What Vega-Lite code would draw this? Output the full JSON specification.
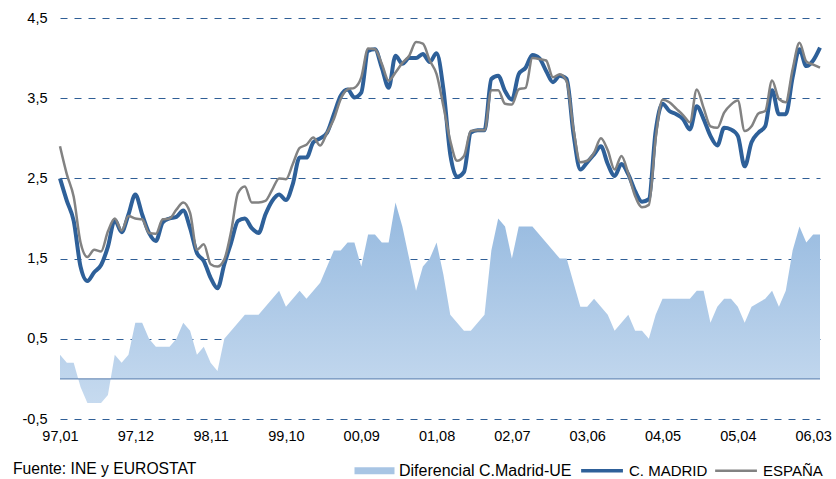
{
  "$schema": "https://vega.github.io/schema/vega-lite/v6.json",
  "width": 760,
  "height": 401,
  "autosize": "none",
  "padding": {"left": 60, "top": 18, "right": 16, "bottom": 60},
  "background": "white",
  "title": {"text": "Fuente: INE y EUROSTAT", "orient": "bottom", "anchor": "start", "frame": "group", "dx": -47, "offset": -17, "font": "Liberation Sans", "fontSize": 15.7, "fontWeight": "normal", "color": "#000000"},
  "config": {"view": {"stroke": null},
    "legend": {"orient": "none", "legendX": 287, "legendY": 445, "direction": "horizontal", "title": null, "labelFont": "Liberation Sans", "labelFontSize": 15, "labelColor": "#000000", "labelLimit": 0, "symbolSize": 1764, "symbolType": "M-1,0H1", "columnPadding": 2, "labelOffset": 37, "padding": 0}},
  "data": {"values": [
    {"mes": "97,01", "madrid": 2.50, "espana": 2.90, "dif": 0.3},
    {"mes": "97,02", "madrid": 2.22, "espana": 2.55, "dif": 0.2},
    {"mes": "97,03", "madrid": 1.97, "espana": 2.27, "dif": 0.2},
    {"mes": "97,04", "madrid": 1.40, "espana": 1.70, "dif": -0.1},
    {"mes": "97,05", "madrid": 1.22, "espana": 1.52, "dif": -0.3},
    {"mes": "97,06", "madrid": 1.33, "espana": 1.61, "dif": -0.3},
    {"mes": "97,07", "madrid": 1.42, "espana": 1.59, "dif": -0.3},
    {"mes": "97,08", "madrid": 1.65, "espana": 1.84, "dif": -0.2},
    {"mes": "97,09", "madrid": 1.98, "espana": 2.00, "dif": 0.3},
    {"mes": "97,10", "madrid": 1.83, "espana": 1.85, "dif": 0.2},
    {"mes": "97,11", "madrid": 2.05, "espana": 2.03, "dif": 0.3},
    {"mes": "97,12", "madrid": 2.30, "espana": 2.00, "dif": 0.7},
    {"mes": "98,01", "madrid": 2.05, "espana": 1.99, "dif": 0.7},
    {"mes": "98,02", "madrid": 1.82, "espana": 1.82, "dif": 0.5},
    {"mes": "98,03", "madrid": 1.72, "espana": 1.81, "dif": 0.4},
    {"mes": "98,04", "madrid": 1.95, "espana": 1.99, "dif": 0.4},
    {"mes": "98,05", "madrid": 2.00, "espana": 2.00, "dif": 0.4},
    {"mes": "98,06", "madrid": 2.02, "espana": 2.11, "dif": 0.5},
    {"mes": "98,07", "madrid": 2.10, "espana": 2.20, "dif": 0.7},
    {"mes": "98,08", "madrid": 1.88, "espana": 2.07, "dif": 0.6},
    {"mes": "98,09", "madrid": 1.57, "espana": 1.61, "dif": 0.3},
    {"mes": "98,10", "madrid": 1.47, "espana": 1.68, "dif": 0.4},
    {"mes": "98,11", "madrid": 1.26, "espana": 1.43, "dif": 0.2},
    {"mes": "98,12", "madrid": 1.13, "espana": 1.40, "dif": 0.1},
    {"mes": "99,01", "madrid": 1.43, "espana": 1.49, "dif": 0.5},
    {"mes": "99,02", "madrid": 1.70, "espana": 1.84, "dif": 0.6},
    {"mes": "99,03", "madrid": 1.97, "espana": 2.32, "dif": 0.7},
    {"mes": "99,04", "madrid": 2.00, "espana": 2.40, "dif": 0.8},
    {"mes": "99,05", "madrid": 1.88, "espana": 2.20, "dif": 0.8},
    {"mes": "99,06", "madrid": 1.82, "espana": 2.20, "dif": 0.8},
    {"mes": "99,07", "madrid": 2.05, "espana": 2.22, "dif": 0.9},
    {"mes": "99,08", "madrid": 2.22, "espana": 2.36, "dif": 1.0},
    {"mes": "99,09", "madrid": 2.30, "espana": 2.50, "dif": 1.1},
    {"mes": "99,10", "madrid": 2.23, "espana": 2.49, "dif": 0.9},
    {"mes": "99,11", "madrid": 2.43, "espana": 2.68, "dif": 1.0},
    {"mes": "99,12", "madrid": 2.76, "espana": 2.88, "dif": 1.1},
    {"mes": "00,01", "madrid": 2.76, "espana": 2.92, "dif": 1.0},
    {"mes": "00,02", "madrid": 2.95, "espana": 3.01, "dif": 1.1},
    {"mes": "00,03", "madrid": 3.00, "espana": 2.91, "dif": 1.2},
    {"mes": "00,04", "madrid": 3.07, "espana": 3.07, "dif": 1.4},
    {"mes": "00,05", "madrid": 3.30, "espana": 3.24, "dif": 1.6},
    {"mes": "00,06", "madrid": 3.53, "espana": 3.49, "dif": 1.6},
    {"mes": "00,07", "madrid": 3.61, "espana": 3.61, "dif": 1.7},
    {"mes": "00,08", "madrid": 3.51, "espana": 3.63, "dif": 1.7},
    {"mes": "00,09", "madrid": 3.57, "espana": 3.76, "dif": 1.4},
    {"mes": "00,10", "madrid": 4.09, "espana": 4.12, "dif": 1.8},
    {"mes": "00,11", "madrid": 4.11, "espana": 4.11, "dif": 1.8},
    {"mes": "00,12", "madrid": 3.88, "espana": 3.93, "dif": 1.7},
    {"mes": "01,01", "madrid": 3.63, "espana": 3.72, "dif": 1.7},
    {"mes": "01,02", "madrid": 4.03, "espana": 3.82, "dif": 2.2},
    {"mes": "01,03", "madrid": 3.93, "espana": 3.94, "dif": 1.9},
    {"mes": "01,04", "madrid": 4.00, "espana": 4.03, "dif": 1.5},
    {"mes": "01,05", "madrid": 4.00, "espana": 4.20, "dif": 1.1},
    {"mes": "01,06", "madrid": 4.05, "espana": 4.18, "dif": 1.4},
    {"mes": "01,07", "madrid": 3.95, "espana": 3.97, "dif": 1.5},
    {"mes": "01,08", "madrid": 4.06, "espana": 3.80, "dif": 1.7},
    {"mes": "01,09", "madrid": 3.61, "espana": 3.40, "dif": 1.3},
    {"mes": "01,10", "madrid": 2.80, "espana": 2.97, "dif": 0.8},
    {"mes": "01,11", "madrid": 2.52, "espana": 2.72, "dif": 0.7},
    {"mes": "01,12", "madrid": 2.58, "espana": 2.78, "dif": 0.6},
    {"mes": "02,01", "madrid": 3.07, "espana": 3.09, "dif": 0.6},
    {"mes": "02,02", "madrid": 3.10, "espana": 3.10, "dif": 0.7},
    {"mes": "02,03", "madrid": 3.10, "espana": 3.10, "dif": 0.8},
    {"mes": "02,04", "madrid": 3.74, "espana": 3.60, "dif": 1.6},
    {"mes": "02,05", "madrid": 3.78, "espana": 3.60, "dif": 2.0},
    {"mes": "02,06", "madrid": 3.59, "espana": 3.43, "dif": 1.9},
    {"mes": "02,07", "madrid": 3.48, "espana": 3.42, "dif": 1.5},
    {"mes": "02,08", "madrid": 3.80, "espana": 3.61, "dif": 1.9},
    {"mes": "02,09", "madrid": 3.88, "espana": 3.63, "dif": 1.9},
    {"mes": "02,10", "madrid": 4.04, "espana": 4.00, "dif": 1.9},
    {"mes": "02,11", "madrid": 4.00, "espana": 3.99, "dif": 1.8},
    {"mes": "02,12", "madrid": 3.84, "espana": 3.97, "dif": 1.7},
    {"mes": "03,01", "madrid": 3.70, "espana": 3.76, "dif": 1.6},
    {"mes": "03,02", "madrid": 3.78, "espana": 3.80, "dif": 1.5},
    {"mes": "03,03", "madrid": 3.74, "espana": 3.71, "dif": 1.5},
    {"mes": "03,04", "madrid": 3.05, "espana": 3.11, "dif": 1.2},
    {"mes": "03,05", "madrid": 2.61, "espana": 2.70, "dif": 0.9},
    {"mes": "03,06", "madrid": 2.70, "espana": 2.72, "dif": 0.9},
    {"mes": "03,07", "madrid": 2.80, "espana": 2.82, "dif": 1.0},
    {"mes": "03,08", "madrid": 2.90, "espana": 3.00, "dif": 0.9},
    {"mes": "03,09", "madrid": 2.68, "espana": 2.85, "dif": 0.8},
    {"mes": "03,10", "madrid": 2.53, "espana": 2.61, "dif": 0.6},
    {"mes": "03,11", "madrid": 2.68, "espana": 2.78, "dif": 0.7},
    {"mes": "03,12", "madrid": 2.55, "espana": 2.56, "dif": 0.8},
    {"mes": "04,01", "madrid": 2.34, "espana": 2.28, "dif": 0.6},
    {"mes": "04,02", "madrid": 2.21, "espana": 2.14, "dif": 0.6},
    {"mes": "04,03", "madrid": 2.24, "espana": 2.17, "dif": 0.5},
    {"mes": "04,04", "madrid": 3.09, "espana": 3.00, "dif": 0.8},
    {"mes": "04,05", "madrid": 3.43, "espana": 3.48, "dif": 1.0},
    {"mes": "04,06", "madrid": 3.34, "espana": 3.45, "dif": 1.0},
    {"mes": "04,07", "madrid": 3.30, "espana": 3.37, "dif": 1.0},
    {"mes": "04,08", "madrid": 3.24, "espana": 3.29, "dif": 1.0},
    {"mes": "04,09", "madrid": 3.11, "espana": 3.20, "dif": 1.0},
    {"mes": "04,10", "madrid": 3.40, "espana": 3.61, "dif": 1.1},
    {"mes": "04,11", "madrid": 3.24, "espana": 3.38, "dif": 1.1},
    {"mes": "04,12", "madrid": 3.03, "espana": 3.15, "dif": 0.7},
    {"mes": "05,01", "madrid": 2.91, "espana": 3.13, "dif": 0.9},
    {"mes": "05,02", "madrid": 3.13, "espana": 3.32, "dif": 1.0},
    {"mes": "05,03", "madrid": 3.11, "espana": 3.42, "dif": 1.0},
    {"mes": "05,04", "madrid": 3.03, "espana": 3.47, "dif": 0.9},
    {"mes": "05,05", "madrid": 2.65, "espana": 3.09, "dif": 0.7},
    {"mes": "05,06", "madrid": 2.95, "espana": 3.15, "dif": 0.9},
    {"mes": "05,07", "madrid": 3.07, "espana": 3.31, "dif": 0.95},
    {"mes": "05,08", "madrid": 3.15, "espana": 3.34, "dif": 1.0},
    {"mes": "05,09", "madrid": 3.60, "espana": 3.72, "dif": 1.1},
    {"mes": "05,10", "madrid": 3.30, "espana": 3.49, "dif": 0.9},
    {"mes": "05,11", "madrid": 3.30, "espana": 3.45, "dif": 1.1},
    {"mes": "05,12", "madrid": 3.76, "espana": 3.86, "dif": 1.6},
    {"mes": "06,01", "madrid": 4.11, "espana": 4.19, "dif": 1.9},
    {"mes": "06,02", "madrid": 3.90, "espana": 3.96, "dif": 1.7},
    {"mes": "06,03", "madrid": 3.97, "espana": 3.92, "dif": 1.8},
    {"mes": "06,04", "madrid": 4.13, "espana": 3.88, "dif": 1.8}
  ]},
  "layer": [
    {
      "mark": {"type": "area", "strokeWidth": 0, "strokeOpacity": 0, "interpolate": "linear",
        "fill": {"gradient": "linear", "x1": 0, "y1": 0, "x2": 0, "y2": 1, "stops": [{"offset": 0, "color": "#95B9DF"}, {"offset": 1, "color": "#C6DAEF"}]}},
      "encoding": {
        "x": {"field": "mes", "type": "ordinal", "sort": null, "scale": {"type": "point", "padding": 0},
          "axis": {"title": null, "values": ["97,01", "97,12", "98,11", "99,10", "00,09", "01,08", "02,07", "03,06", "04,05", "05,04", "06,03"], "labelAngle": 0, "ticks": false, "domain": false, "grid": false, "labelPadding": 10, "labelFont": "Liberation Sans", "labelFontSize": 14.5, "labelColor": "#000000"}},
        "y": {"field": "dif", "type": "quantitative", "scale": {"domain": [-0.5, 4.5], "nice": false, "zero": false},
          "axis": {"title": null, "values": [-0.5, 0.5, 1.5, 2.5, 3.5, 4.5], "labelExpr": "(datum.value < 0 ? '-' : '') + replace(format(abs(datum.value), '.1f'), '.', ',')", "ticks": false, "domain": false, "grid": true, "gridColor": "#2F5E96", "gridDash": [7, 7], "gridWidth": 1, "labelPadding": 13, "labelFont": "Liberation Sans", "labelFontSize": 14.5, "labelColor": "#000000"}},
        "stroke": {"datum": "Diferencial C.Madrid-UE", "type": "nominal",
          "scale": {"domain": ["Diferencial C.Madrid-UE", "C. MADRID", "ESPAÑA"], "range": ["#A8C5E4", "#2E6099", "#828282"]},
          "legend": {
            "encode": {
              "symbols": {"update": {
                "shape": {"signal": "datum.value === 'Diferencial C.Madrid-UE' ? 'M0,-0.17H1.905V0.17H0Z' : 'M-0.16,0H1.83'"},
                "fill": {"signal": "datum.value === 'Diferencial C.Madrid-UE' ? '#A8C5E4' : 'transparent'"},
                "strokeWidth": {"signal": "datum.value === 'Diferencial C.Madrid-UE' ? 0 : (datum.value === 'C. MADRID' ? 3.5 : 2.5)"},
                "size": {"value": 1764},
                "opacity": {"value": 1},
                "strokeOpacity": {"value": 1},
                "fillOpacity": {"value": 1}
              }},
              "labels": {"update": {"fontSize": {"signal": "datum.value === 'Diferencial C.Madrid-UE' ? 16 : 15"}}}
            }}}
      }
    },
    {
      "data": {"values": [{"cero": 0}]},
      "mark": {"type": "rule", "color": "#6F8FBA", "strokeWidth": 1.2},
      "encoding": {"y": {"field": "cero", "type": "quantitative", "axis": {"title": null}}}
    },
    {
      "mark": {"type": "line", "strokeWidth": 4, "interpolate": "monotone"},
      "encoding": {
        "x": {"field": "mes", "type": "ordinal", "sort": null},
        "y": {"field": "madrid", "type": "quantitative", "axis": {"title": null}},
        "stroke": {"datum": "C. MADRID", "type": "nominal",
          "legend": {
            "encode": {
              "symbols": {"update": {
                "shape": {"signal": "datum.value === 'Diferencial C.Madrid-UE' ? 'M0,-0.17H1.905V0.17H0Z' : 'M-0.16,0H1.83'"},
                "fill": {"signal": "datum.value === 'Diferencial C.Madrid-UE' ? '#A8C5E4' : 'transparent'"},
                "strokeWidth": {"signal": "datum.value === 'Diferencial C.Madrid-UE' ? 0 : (datum.value === 'C. MADRID' ? 3.5 : 2.5)"},
                "size": {"value": 1764},
                "opacity": {"value": 1},
                "strokeOpacity": {"value": 1},
                "fillOpacity": {"value": 1}
              }},
              "labels": {"update": {"fontSize": {"signal": "datum.value === 'Diferencial C.Madrid-UE' ? 16 : 15"}}}
            }}}
      }
    },
    {
      "mark": {"type": "line", "strokeWidth": 2.5, "interpolate": "monotone"},
      "encoding": {
        "x": {"field": "mes", "type": "ordinal", "sort": null},
        "y": {"field": "espana", "type": "quantitative", "axis": {"title": null}},
        "stroke": {"datum": "ESPAÑA", "type": "nominal",
          "legend": {
            "encode": {
              "symbols": {"update": {
                "shape": {"signal": "datum.value === 'Diferencial C.Madrid-UE' ? 'M0,-0.17H1.905V0.17H0Z' : 'M-0.16,0H1.83'"},
                "fill": {"signal": "datum.value === 'Diferencial C.Madrid-UE' ? '#A8C5E4' : 'transparent'"},
                "strokeWidth": {"signal": "datum.value === 'Diferencial C.Madrid-UE' ? 0 : (datum.value === 'C. MADRID' ? 3.5 : 2.5)"},
                "size": {"value": 1764},
                "opacity": {"value": 1},
                "strokeOpacity": {"value": 1},
                "fillOpacity": {"value": 1}
              }},
              "labels": {"update": {"fontSize": {"signal": "datum.value === 'Diferencial C.Madrid-UE' ? 16 : 15"}}}
            }}}
      }
    }
  ]
}
